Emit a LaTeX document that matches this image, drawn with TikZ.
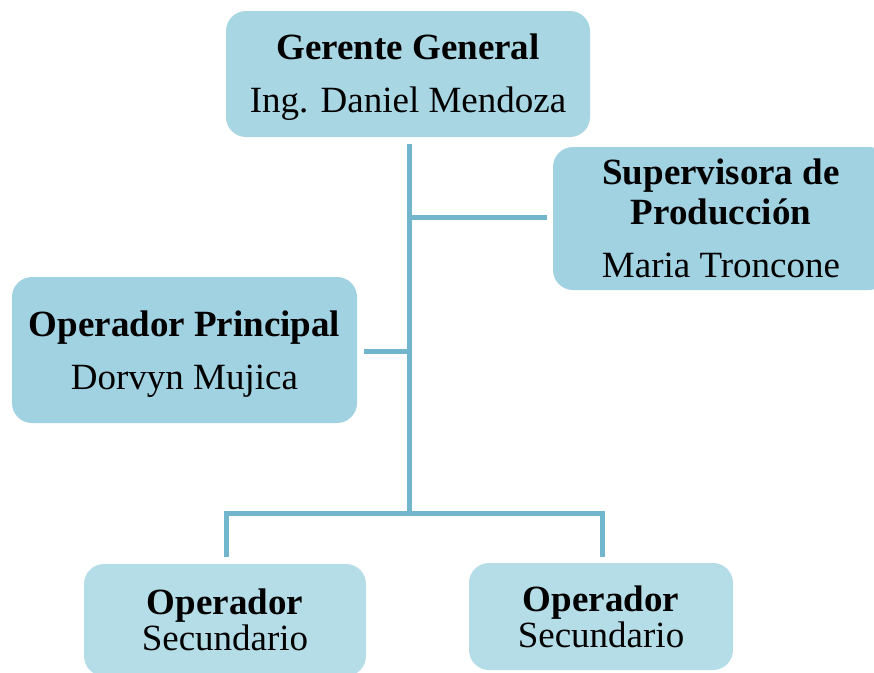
\documentclass[tikz,border=0pt]{standalone}
\usepackage{fontspec}
\setmainfont{Liberation Serif}
\definecolor{topfill}{HTML}{A9D6E3}
\definecolor{midfill}{HTML}{A1D2E1}
\definecolor{botfill}{HTML}{B4DDE7}
\definecolor{linkcol}{HTML}{72B6CE}
\tikzset{
  box/.style={rectangle, rounded corners=20pt, draw=none, inner sep=0pt},
  txt/.style={inner sep=0pt, align=center, font=\fontsize{37}{40}\selectfont},
  link/.style={draw=linkcol, line width=5pt, line join=miter}
}
\begin{document}
\begin{tikzpicture}[x=1pt,y=-1pt]
\useasboundingbox (0,0) rectangle (874,672);
\clip (0,0) rectangle (874,672);
\node[box, fill=topfill, minimum width=364pt, minimum height=126pt] (gg) at (408,74) {};
\node[txt] (ggt) at ([yshift=-3pt]gg.center)
  {\textbf{Gerente General}\\[13pt]Ing. Daniel Mendoza};
\node[box, fill=midfill, minimum width=336pt, minimum height=143pt] (sp) at (721,218.5) {};
\node[txt] (spt) at (sp.center)
  {\textbf{Supervisora de}\\\textbf{Producción}\\[13pt]Maria Troncone};
\node[box, fill=midfill, minimum width=345pt, minimum height=146pt] (op) at (184.5,350) {};
\node[txt] (opt) at ([yshift=-4pt]op.center)
  {\textbf{Operador Principal}\\[13pt]Dorvyn Mujica};
\node[box, fill=botfill, minimum width=282pt, minimum height=112pt] (bl) at (225,620) {};
\node[txt] (blt) at (bl.center) {\textbf{Operador}\\[-4pt]Secundario};
\node[box, fill=botfill, minimum width=264pt, minimum height=107pt] (br) at (601,616.5) {};
\node[txt] (brt) at (br.center) {\textbf{Operador}\\[-4pt]Secundario};
\coordinate (t1) at (409,144);
\coordinate (j1) at (409,217);
\coordinate (j2) at (409,351);
\coordinate (j3) at (409,513);
\coordinate (s1) at (547,217);
\coordinate (p1) at (364,351);
\coordinate (bl2) at (226,557);
\coordinate (br2) at (602,557);
\draw[link] (t1) -- (j3);
\draw[link] (j1) -- (s1);
\draw[link] (j2) -- (p1);
\draw[link] (bl2) |- (j3) -| (br2);
\end{tikzpicture}
\end{document}
